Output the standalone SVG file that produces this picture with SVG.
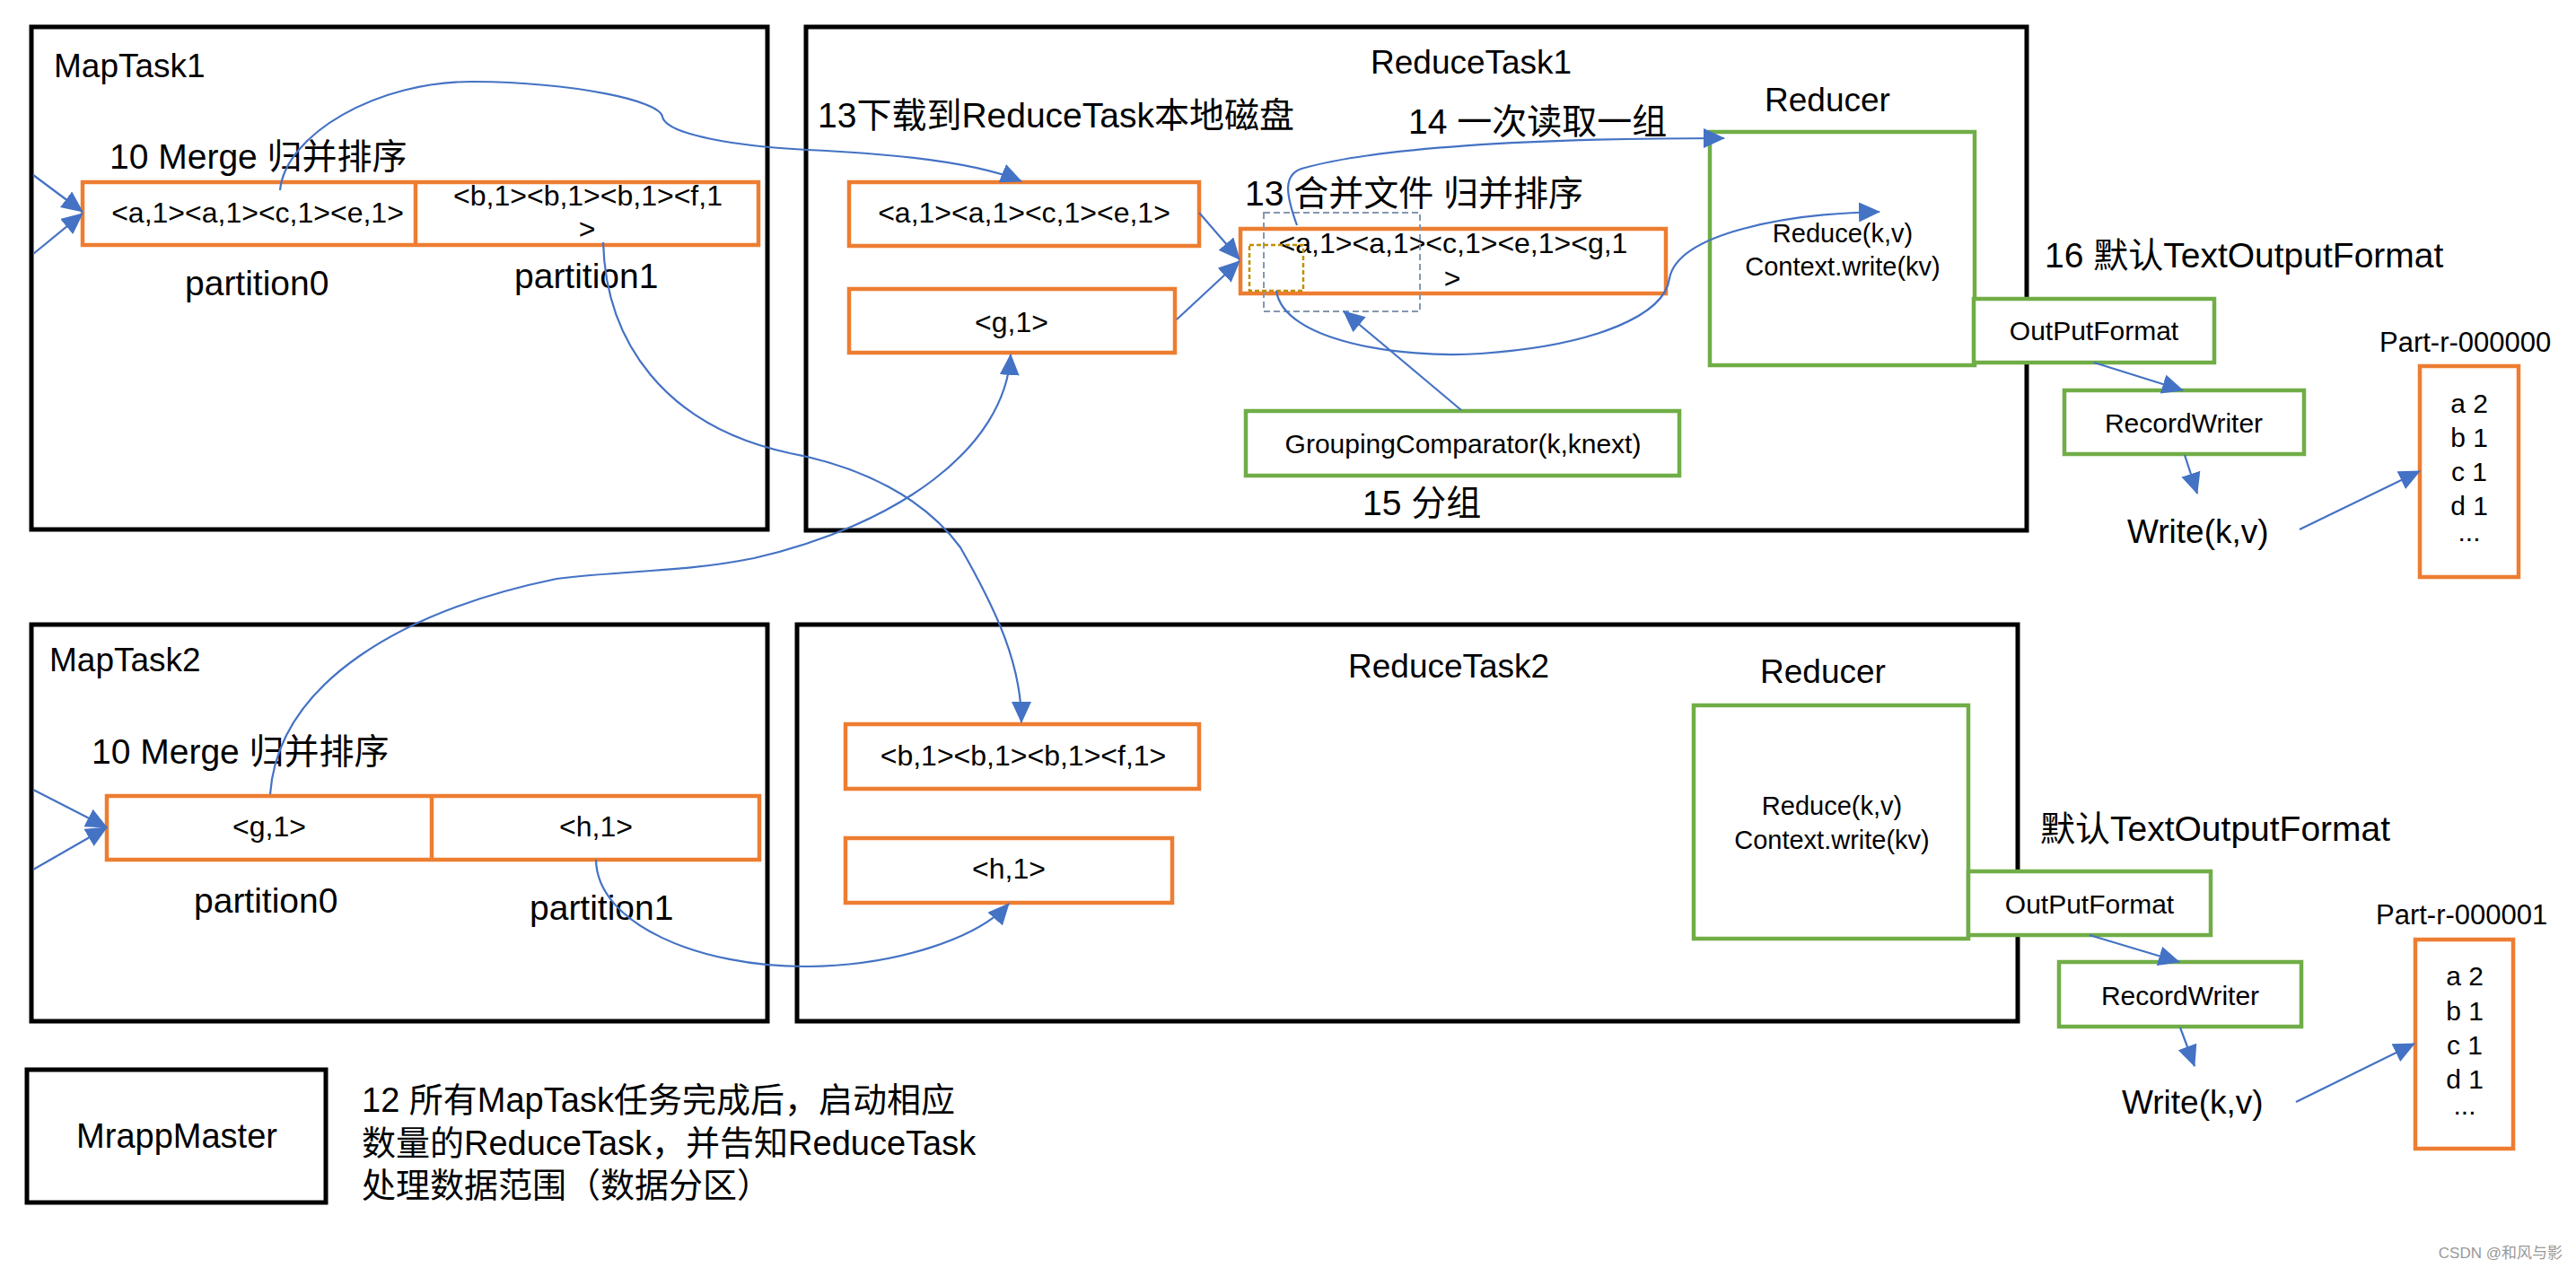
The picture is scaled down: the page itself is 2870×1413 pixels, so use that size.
<svg xmlns="http://www.w3.org/2000/svg" width="2870" height="1413" viewBox="0 0 2870 1413">
<style>
text{font-family:"Liberation Sans","Noto Sans CJK SC",sans-serif;fill:#000}
.blk{fill:none;stroke:#000;stroke-width:5}
.org{fill:#fff;stroke:#ED7D31;stroke-width:4.5}
.grn{fill:#fff;stroke:#70AD47;stroke-width:4.5}
.grnn{fill:none;stroke:#70AD47;stroke-width:4.5}
.lbl{font-size:37px}
.cjk{font-size:39px}
.kv{font-size:32px}
.mid{text-anchor:middle}
.con{fill:none;stroke:#4472C4;stroke-width:2.2;marker-end:url(#ah)}
</style>
<defs>
<marker id="ah" markerUnits="userSpaceOnUse" markerWidth="24" markerHeight="22" refX="23" refY="11" orient="auto">
<path d="M0,0 L24,11 L0,22 Z" fill="#4472C4"/>
</marker>
</defs>
<rect width="2870" height="1413" fill="#fff"/>

<g id="maptask1">
<rect class="blk" x="35" y="30" width="820" height="560"/>
<text class="lbl" x="60" y="86">MapTask1</text>
<text class="cjk" x="122" y="188">10 Merge 归并排序</text>
<rect class="org" x="92" y="203" width="753" height="70"/>
<line x1="463" y1="203" x2="463" y2="273" stroke="#ED7D31" stroke-width="4.5"/>
<text class="kv mid" x="287" y="248">&lt;a,1&gt;&lt;a,1&gt;&lt;c,1&gt;&lt;e,1&gt;</text>
<text class="kv mid" x="655" y="229">&lt;b,1&gt;&lt;b,1&gt;&lt;b,1&gt;&lt;f,1</text>
<text class="kv mid" x="654" y="266">&gt;</text>
<text class="cjk" x="206" y="329">partition0</text>
<text class="cjk" x="573" y="321">partition1</text>
</g>

<g id="maptask2">
<rect class="blk" x="35" y="696" width="820" height="442"/>
<text class="lbl" x="55" y="748">MapTask2</text>
<text class="cjk" x="102" y="851">10 Merge 归并排序</text>
<rect class="org" x="119" y="887" width="727" height="71"/>
<line x1="481" y1="887" x2="481" y2="958" stroke="#ED7D31" stroke-width="4.5"/>
<text class="kv mid" x="300" y="932">&lt;g,1&gt;</text>
<text class="kv mid" x="664" y="932">&lt;h,1&gt;</text>
<text class="cjk" x="216" y="1017">partition0</text>
<text class="cjk" x="590" y="1025">partition1</text>
</g>

<g id="reducetask1">
<rect class="blk" x="898" y="30" width="1360" height="561"/>
<text class="lbl" x="1527" y="82">ReduceTask1</text>
<text class="cjk" x="911" y="142">13下载到ReduceTask本地磁盘</text>
<text class="cjk" x="1569" y="149">14 一次读取一组</text>
<text class="cjk" x="1387" y="229">13 合并文件 归并排序</text>
<text class="cjk" x="1518" y="574">15 分组</text>
</g>

<g id="r1-part0">
<rect class="org" x="946" y="203" width="390" height="71"/>
<text class="kv mid" x="1141" y="248">&lt;a,1&gt;&lt;a,1&gt;&lt;c,1&gt;&lt;e,1&gt;</text>
</g>
<g id="r1-part1">
<rect class="org" x="946" y="322" width="363" height="71"/>
<text class="kv mid" x="1127" y="370">&lt;g,1&gt;</text>
</g>
<g id="r1-merged">
<rect class="org" x="1382" y="255" width="474" height="72"/>
<text class="kv mid" x="1619" y="282">&lt;a,1&gt;&lt;a,1&gt;&lt;c,1&gt;&lt;e,1&gt;&lt;g,1</text>
<text class="kv mid" x="1618" y="321">&gt;</text>
</g>
<g id="group-window">
<rect x="1408" y="237" width="174" height="110" fill="none" stroke="#8497B0" stroke-width="2" stroke-dasharray="7,4"/>
<rect x="1392" y="273" width="60" height="51" fill="none" stroke="#BF9000" stroke-width="2.5" stroke-dasharray="5,3"/>
</g>
<g id="grouping-comparator">
<rect class="grn" x="1388" y="458" width="483" height="72"/>
<text class="mid" x="1630" y="505" font-size="30">GroupingComparator(k,knext)</text>
</g>
<g id="reducer1">
<text class="lbl" x="1966" y="124">Reducer</text>
<rect class="grnn" x="1905" y="147" width="295" height="260"/>
<text class="mid" x="2053" y="270" font-size="29">Reduce(k,v)</text>
<text class="mid" x="2053" y="307" font-size="29">Context.write(kv)</text>
</g>
<g id="outputformat1">
<text class="cjk" x="2278" y="298">16 默认TextOutputFormat</text>
<rect class="grn" x="2199" y="333" width="268" height="71"/>
<text class="mid" x="2333" y="379" font-size="30">OutPutFormat</text>
</g>
<g id="recordwriter1">
<rect class="grn" x="2300" y="435" width="267" height="71"/>
<text class="mid" x="2433" y="482" font-size="30">RecordWriter</text>
</g>
<g id="write1">
<text class="lbl" x="2370" y="605">Write(k,v)</text>
</g>
<g id="file1">
<text x="2651" y="392" font-size="31">Part-r-000000</text>
<rect class="org" x="2696" y="408" width="110" height="235"/>
<text class="mid" x="2751" y="460" font-size="30">a 2</text>
<text class="mid" x="2751" y="498" font-size="30">b 1</text>
<text class="mid" x="2751" y="536" font-size="30">c 1</text>
<text class="mid" x="2751" y="574" font-size="30">d 1</text>
<text class="mid" x="2751" y="603" font-size="30">...</text>
</g>

<g id="reducetask2">
<rect class="blk" x="888" y="696" width="1360" height="442"/>
<text class="lbl" x="1502" y="755">ReduceTask2</text>
</g>
<g id="r2-part0">
<rect class="org" x="942" y="807" width="394" height="72"/>
<text class="kv mid" x="1140" y="853">&lt;b,1&gt;&lt;b,1&gt;&lt;b,1&gt;&lt;f,1&gt;</text>
</g>
<g id="r2-part1">
<rect class="org" x="942" y="934" width="364" height="72"/>
<text class="kv mid" x="1124" y="979">&lt;h,1&gt;</text>
</g>
<g id="reducer2">
<text class="lbl" x="1961" y="761">Reducer</text>
<rect class="grnn" x="1887" y="786" width="306" height="260"/>
<text class="mid" x="2041" y="908" font-size="29">Reduce(k,v)</text>
<text class="mid" x="2041" y="946" font-size="29">Context.write(kv)</text>
</g>
<g id="outputformat2">
<text class="cjk" x="2273" y="937">默认TextOutputFormat</text>
<rect class="grn" x="2193" y="971" width="270" height="71"/>
<text class="mid" x="2328" y="1018" font-size="30">OutPutFormat</text>
</g>
<g id="recordwriter2">
<rect class="grn" x="2294" y="1072" width="270" height="72"/>
<text class="mid" x="2429" y="1120" font-size="30">RecordWriter</text>
</g>
<g id="write2">
<text class="lbl" x="2364" y="1241">Write(k,v)</text>
</g>
<g id="file2">
<text x="2647" y="1030" font-size="31">Part-r-000001</text>
<rect class="org" x="2691" y="1047" width="109" height="233"/>
<text class="mid" x="2746" y="1098" font-size="30">a 2</text>
<text class="mid" x="2746" y="1137" font-size="30">b 1</text>
<text class="mid" x="2746" y="1175" font-size="30">c 1</text>
<text class="mid" x="2746" y="1213" font-size="30">d 1</text>
<text class="mid" x="2746" y="1242" font-size="30">...</text>
</g>

<g id="mrappmaster">
<rect class="blk" x="30" y="1192" width="333" height="148"/>
<text class="mid" x="197" y="1279" font-size="38">MrappMaster</text>
</g>
<g id="note12">
<text x="403" y="1239" font-size="38">12 所有MapTask任务完成后，启动相应</text>
<text x="403" y="1287" font-size="38">数量的ReduceTask，并告知ReduceTask</text>
<text x="403" y="1334" font-size="38">处理数据范围（数据分区）</text>
</g>
<text x="2855" y="1402" font-size="17" fill="#999" style="fill:#999;text-anchor:end">CSDN @和风与影</text>

<g id="connectors">
<line class="con" x1="37" y1="195" x2="92" y2="236"/>
<line class="con" x1="37" y1="283" x2="92" y2="238"/>
<line class="con" x1="37" y1="880" x2="119" y2="922"/>
<line class="con" x1="37" y1="969" x2="119" y2="922"/>
<path class="con" d="M312,212 C318,150 420,90 528,91 C640,92 735,112 738,130 C742,150 820,163 900,167 C990,171 1085,180 1138,202"/>
<path class="con" d="M672,270 C675,380 740,475 880,505 C960,520 1030,555 1070,610 C1110,680 1138,740 1138,805"/>
<path class="con" d="M301,885 C310,760 450,680 620,645 C700,635 760,638 840,622 C1000,585 1120,500 1126,395"/>
<path class="con" d="M664,958 C665,1030 780,1078 900,1077 C1000,1076 1090,1045 1124,1007"/>
<line class="con" x1="1336" y1="237" x2="1381" y2="289"/>
<line class="con" x1="1311" y1="356" x2="1381" y2="291"/>
<line class="con" x1="1628" y1="457" x2="1497" y2="347"/>
<path class="con" d="M1422,324 C1430,380 1560,400 1650,394 C1780,385 1855,350 1860,310 C1870,260 1990,238 2094,236"/>
<path class="con" d="M1445,251 C1432,215 1430,195 1450,188 C1530,165 1700,154 1921,154"/>
<line class="con" x1="2333" y1="404" x2="2432" y2="435"/>
<line class="con" x1="2434" y1="507" x2="2448" y2="550"/>
<line class="con" x1="2562" y1="590" x2="2696" y2="525"/>
<line class="con" x1="2328" y1="1042" x2="2428" y2="1072"/>
<line class="con" x1="2429" y1="1145" x2="2445" y2="1188"/>
<line class="con" x1="2558" y1="1228" x2="2690" y2="1163"/>
</g>
</svg>
